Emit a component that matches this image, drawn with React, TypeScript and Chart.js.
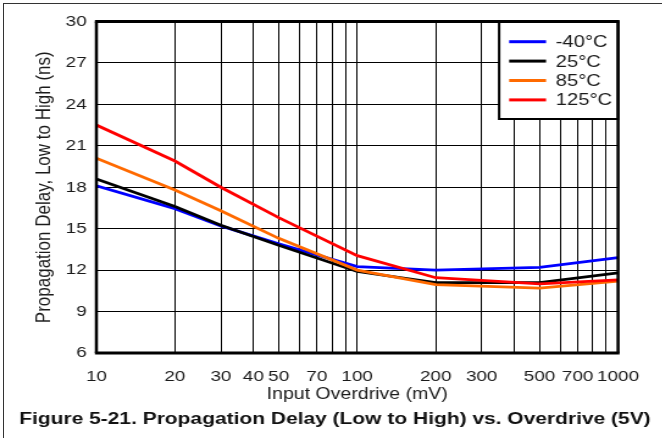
import React, { useEffect, useRef } from "react";
import { Chart, registerables } from "chart.js";

Chart.register(...registerables);

const overdrive = [10, 20, 30, 50, 100, 200, 500, 1000];
const seriesLabels = ["-40°C", "25°C", "85°C", "125°C"];
const seriesColors = ["#0000ff", "#000000", "#ff6a00", "#ff0000"];
const delayM40 = [18.1, 16.45, 15.2, 13.9, 12.25, 12.0, 12.2, 12.9];
const delay25 = [18.6, 16.6, 15.25, 13.8, 11.9, 11.1, 11.1, 11.8];
const delay85 = [20.1, 17.8, 16.3, 14.3, 12.0, 10.95, 10.7, 11.2];
const delay125 = [22.5, 19.9, 18.0, 15.8, 13.05, 11.45, 11.0, 11.3];
const xGridValues = [10, 20, 30, 40, 50, 60, 70, 80, 90, 100, 200, 300, 400, 500, 600, 700, 800, 900, 1000];
const xTickLabels = [10, 20, 30, 40, 50, 70, 100, 200, 300, 500, 700, 1000];
const yMin = 6;
const yMax = 30;
const yStep = 3;
const xTitle = "Input Overdrive (mV)";
const yTitle = "Propagation Delay, Low to High (ns)";
const caption = "Figure 5-21. Propagation Delay (Low to High) vs. Overdrive (5V)";

const SX = 1.22;
const CW = 543;
const CH = 438;
const FONT = "'Liberation Sans', Arial, sans-serif";

const allSeries = [delayM40, delay25, delay85, delay125];

const framePlugin = {
  id: "framePlugin",
  afterDraw(chart: any) {
    const ctx = chart.ctx;
    const a = chart.chartArea;
    // legend
    const lw = 97.5;
    const lh = 97.5;
    const lx = a.right - lw;
    const ly = a.top;
    ctx.save();
    ctx.fillStyle = "#ffffff";
    ctx.fillRect(lx, ly, lw, lh);
    ctx.strokeStyle = "#000";
    ctx.lineWidth = 2;
    ctx.strokeRect(lx, ly, lw, lh);
    ctx.font = `16.5px ${FONT}`;
    ctx.textBaseline = "middle";
    ctx.textAlign = "left";
    chart.data.datasets.forEach((ds: any, i: number) => {
      const y = ly + 20.2 + i * 19.4;
      ctx.strokeStyle = ds.borderColor;
      ctx.lineWidth = 3;
      ctx.beginPath();
      ctx.moveTo(lx + 8.2, y);
      ctx.lineTo(lx + 38.5, y);
      ctx.stroke();
      ctx.fillStyle = "#1a1a1a";
      ctx.fillText(ds.label, lx + 46.5, y + 1);
    });
    // plot border
    ctx.strokeStyle = "#000";
    ctx.lineWidth = 3;
    ctx.beginPath();
    ctx.moveTo(a.left - 1.2, a.top);
    ctx.lineTo(a.right + 1.2, a.top);
    ctx.moveTo(a.left - 1.2, a.bottom);
    ctx.lineTo(a.right + 1.2, a.bottom);
    ctx.stroke();
    ctx.lineWidth = 2.5;
    ctx.beginPath();
    ctx.moveTo(a.left, a.top);
    ctx.lineTo(a.left, a.bottom);
    ctx.moveTo(a.right, a.top);
    ctx.lineTo(a.right, a.bottom);
    ctx.stroke();
    // caption
    ctx.fillStyle = "#111";
    ctx.font = `bold 17.2px ${FONT}`;
    ctx.textAlign = "center";
    ctx.textBaseline = "middle";
    ctx.fillText(caption, 274.5, 419);
    ctx.restore();
  },
};

export default function App() {
  const ref = useRef<HTMLCanvasElement | null>(null);
  useEffect(() => {
    if (!ref.current) return;
    const chart = new Chart(ref.current, {
      type: "line",
      data: {
        datasets: allSeries.map((vals, i) => ({
          label: seriesLabels[i],
          data: overdrive.map((x, j) => ({ x, y: vals[j] })),
          borderColor: seriesColors[i],
          backgroundColor: seriesColors[i],
          borderWidth: 2.8,
          pointRadius: 0,
          tension: 0,
          order: allSeries.length - i,
        })),
      },
      options: {
        animation: false,
        responsive: false,
        devicePixelRatio: 1,
        layout: { padding: { left: 0, right: 36.4, top: 21.5, bottom: 33 } },
        plugins: { legend: { display: false }, tooltip: { enabled: false } },
        scales: {
          x: {
            type: "logarithmic",
            min: 10,
            max: 1000,
            afterBuildTicks: (scale: any) => {
              scale.ticks = xGridValues.map((v) => ({ value: v }));
            },
            afterFit: (scale: any) => {
              scale.height = 52;
            },
            ticks: {
              autoSkip: false,
              maxRotation: 0,
              minRotation: 0,
              padding: 14,
              color: "#1a1a1a",
              font: { size: 15.5, family: FONT },
              callback: (v: any) => (xTickLabels.includes(Number(v)) ? String(v) : ""),
            },
            grid: { color: "#000", lineWidth: 1, drawTicks: false },
            border: { display: false },
            title: {
              display: true,
              text: xTitle,
              color: "#1a1a1a",
              font: { size: 16, family: FONT },
              padding: { top: 0, bottom: 1 },
            },
          },
          y: {
            type: "linear",
            min: yMin,
            max: yMax,
            afterFit: (scale: any) => {
              scale.width = 79;
            },
            ticks: {
              stepSize: yStep,
              padding: 8,
              color: "#1a1a1a",
              font: { size: 15.5, family: FONT },
            },
            grid: { color: "#000", lineWidth: 1, drawTicks: false },
            border: { display: false },
            title: {
              display: true,
              text: yTitle,
              color: "#1a1a1a",
              font: { size: 17, family: FONT },
              padding: { top: 26, bottom: 0 },
            },
          },
        },
      },
      plugins: [framePlugin],
    });
    return () => chart.destroy();
  }, []);

  return (
    <div
      style={{
        position: "fixed",
        left: 0,
        top: 0,
        width: 662,
        height: 438,
        overflow: "hidden",
        background: "#fff",
      }}
    >
      <div
        style={{
          position: "absolute",
          left: 0,
          top: 0,
          width: CW,
          height: CH,
          transform: `scaleX(${SX})`,
          transformOrigin: "0 0",
        }}
      >
        <canvas ref={ref} width={CW} height={CH} />
      </div>
      <div
        style={{
          position: "absolute",
          left: 3,
          top: 3,
          width: 700,
          height: 500,
          borderTop: "1px solid #333",
          borderLeft: "1px solid #333",
        }}
      />
    </div>
  );
}
